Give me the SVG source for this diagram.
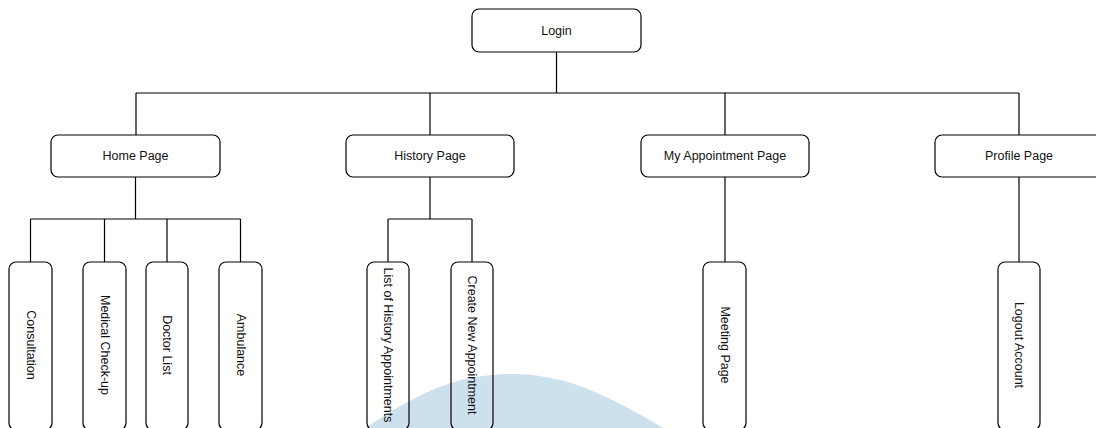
<svg xmlns="http://www.w3.org/2000/svg" width="1096" height="428" viewBox="0 0 1096 428">
<style>
.box{fill:none;stroke:#000;stroke-width:1.2}
.t{font-family:"Liberation Sans",Arial,sans-serif;font-size:12.5px;fill:#111;text-anchor:middle;dominant-baseline:central}
.c{fill:none;stroke:#000;stroke-width:1.2}
</style>
<rect width="1096" height="428" fill="#fff"/>
<path d="M360 432 C420 390 460 374 513 374 C560 374 600 390 670 432 Z" fill="#cce0ed"/>
<g id="connectors">
<path class="c" d="M556.5 52 V93 M136 93 H1019 M136 93 V135 M430 93 V135 M725 93 V135 M1019 93 V135"/>
<path class="c" d="M135.5 177 V219 M30.5 219 H240.5 M30.5 219 V262 M104.5 219 V262 M167 219 V262 M240.5 219 V262"/>
<path class="c" d="M430 177 V219 M388 219 H472 M388 219 V262 M472 219 V262"/>
<path class="c" d="M725 177 V262"/>
<path class="c" d="M1019 177 V262"/>
</g>
<g id="login"><rect class="box" x="472" y="9" width="169" height="43" rx="7"/><text class="t" x="556.5" y="31">Login</text></g>
<g id="home"><rect class="box" x="51" y="135" width="169" height="42" rx="7"/><text class="t" x="135.5" y="156">Home Page</text></g>
<g id="history"><rect class="box" x="346" y="135" width="168" height="42" rx="7"/><text class="t" x="430" y="156">History Page</text></g>
<g id="appointment"><rect class="box" x="641" y="135" width="168" height="42" rx="7"/><text class="t" x="725" y="156">My Appointment Page</text></g>
<g id="profile"><rect class="box" x="935" y="135" width="169" height="42" rx="7"/><text class="t" x="1019" y="156">Profile Page</text></g>
<g id="consultation"><rect class="box" x="9" y="262" width="43" height="168" rx="7"/><text class="t" transform="translate(30.5 345) rotate(90)">Consultation</text></g>
<g id="medical"><rect class="box" x="83" y="262" width="43" height="168" rx="7"/><text class="t" transform="translate(104.5 345) rotate(90)">Medical Check-up</text></g>
<g id="doctor"><rect class="box" x="146" y="262" width="42" height="168" rx="7"/><text class="t" transform="translate(167 345) rotate(90)">Doctor List</text></g>
<g id="ambulance"><rect class="box" x="219" y="262" width="43" height="168" rx="7"/><text class="t" transform="translate(240.5 345) rotate(90)">Ambulance</text></g>
<g id="list-history"><rect class="box" x="367" y="262" width="42" height="168" rx="7"/><text class="t" transform="translate(388 345) rotate(90)">List of History Appointments</text></g>
<g id="create-new"><rect class="box" x="451" y="262" width="42" height="168" rx="7"/><text class="t" transform="translate(472 345) rotate(90)">Create New Appointment</text></g>
<g id="meeting"><rect class="box" x="703" y="262" width="43" height="168" rx="7"/><text class="t" transform="translate(724.5 345) rotate(90)">Meeting Page</text></g>
<g id="logout"><rect class="box" x="998" y="262" width="42" height="168" rx="7"/><text class="t" transform="translate(1019 345) rotate(90)">Logout Account</text></g>
</svg>
